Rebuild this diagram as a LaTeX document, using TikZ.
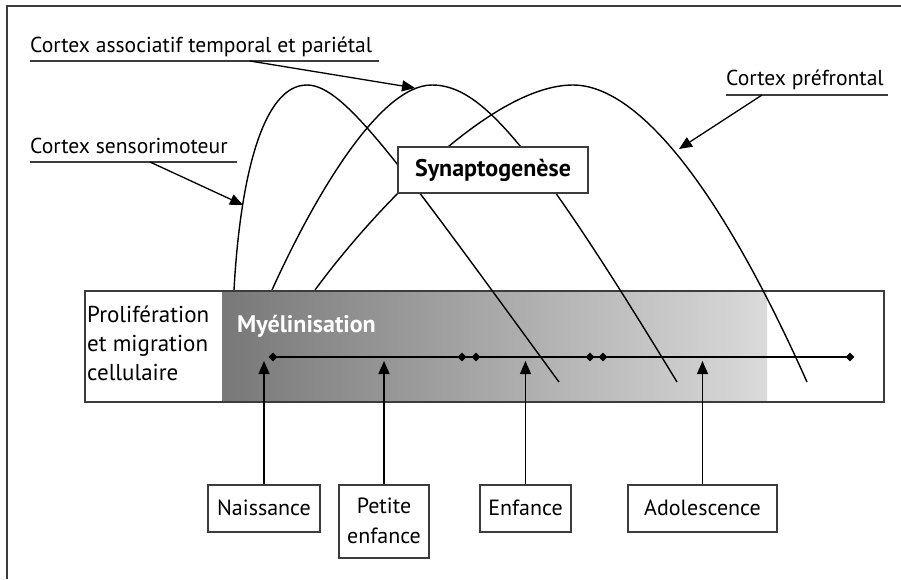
\documentclass[tikz,border=0pt]{standalone}
\usepackage{fontspec}
\setmainfont{PT Sans}
\usetikzlibrary{arrows.meta,shapes.geometric}
\definecolor{gdark}{RGB}{120,120,120}
\definecolor{glight}{RGB}{218,218,218}
\definecolor{edge}{RGB}{60,60,60}
\begin{document}
\begin{tikzpicture}[x=1pt,y=-1pt,
  lbl/.style={font=\fontsize{21.6}{26}\selectfont, inner sep=0pt, anchor=base west},
  uline/.style={line width=1.4pt, draw=edge},
  tip/.style={line width=1.3pt, -{Triangle[length=13pt,width=11pt]}},
  curve/.style={line width=1.4pt},
  box/.style={draw=edge, line width=1.5pt, fill=white, inner sep=0pt, align=center},
  agebox/.style={box, font=\fontsize{22}{30}\selectfont, anchor=north, minimum height=47pt},
  diam/.style={diamond, fill=black, inner sep=0pt, minimum size=9pt}]
\useasboundingbox (0,0) rectangle (901,579);
% frame
\draw[line width=2pt, draw=edge] (7,579) -- (7,6) -- (901,6);
% band
\shade[left color=gdark, right color=glight] (222,290) rectangle (767,401);
\node[draw=edge, line width=1.5pt, minimum width=799pt, minimum height=111pt, anchor=north west, inner sep=0pt] (band) at (84,290) {};
\node[font=\fontsize{23}{29}\selectfont, align=left, anchor=base west, inner sep=0pt] (prolif) at (87,380) {Prolifération\\et migration\\cellulaire};
\node[font=\bfseries\fontsize{24}{26}\selectfont, text=white, anchor=base west, inner sep=0pt] (myel) at (237,332) {Myélinisation};
% curves
\draw[curve] (234,290) .. controls (240,180) and (262,85) .. (307,85) .. controls (345,85) and (400,165) .. (559,382);
\draw[curve] (272,290) .. controls (315,195) and (380,85) .. (432,85) .. controls (480,85) and (530,140) .. (677,382);
\draw[curve] (315,290) .. controls (370,215) and (490,85) .. (573,85) .. controls (630,85) and (710,165) .. (807,382);
% synaptogenese
\node[box, font=\bfseries\fontsize{24}{26}\selectfont, minimum width=190pt, minimum height=46pt] (syn) at (493,170) {Synaptogenèse};
% labels
\node[lbl] (assoc) at (30,52) {Cortex associatif temporal et pariétal};
\draw[uline] (30,61) -- (379,61);
\coordinate (assocA) at (250,61);
\coordinate (assocT) at (415,88);
\draw[tip] (assocA) -- (assocT);
\node[lbl] (senso) at (30,153) {Cortex sensorimoteur};
\draw[uline] (30,162) -- (237,162);
\coordinate (sensoA) at (150,162);
\coordinate (sensoT) at (243,205);
\draw[tip] (sensoA) -- (sensoT);
\node[lbl] (pref) at (726,85) {Cortex préfrontal};
\draw[uline] (726,95) -- (888,95);
\coordinate (prefA) at (762,95);
\coordinate (prefT) at (679,149);
\draw[tip] (prefA) -- (prefT);
% timeline
\node[diam] (d1) at (273,357) {};
\node[diam] (d2) at (462,357) {};
\node[diam] (d3) at (476,357) {};
\node[diam] (d4) at (590,357) {};
\node[diam] (d5) at (603,357) {};
\node[diam] (d6) at (850,357) {};
\draw[line width=1.3pt] (d1.center) -- (d6.center);
% age boxes
\node[agebox, minimum width=112pt] (nai) at (264,484) {Naissance};
\node[agebox, minimum width=90pt, minimum height=73pt] (pet) at (384,484) {Petite\\enfance};
\node[agebox, minimum width=91pt] (enf) at (525.5,484) {Enfance};
\node[agebox, minimum width=149pt] (ado) at (702.5,484) {Adolescence};
\coordinate (tN) at (264,361);
\coordinate (tP) at (384,361);
\coordinate (tE) at (525.5,361);
\coordinate (tA) at (702.5,361);
\draw[tip] (nai.north) -- (tN);
\draw[tip] (pet.north) -- (tP);
\draw[tip] (enf.north) -- (tE);
\draw[tip] (ado.north) -- (tA);
\end{tikzpicture}
\end{document}
